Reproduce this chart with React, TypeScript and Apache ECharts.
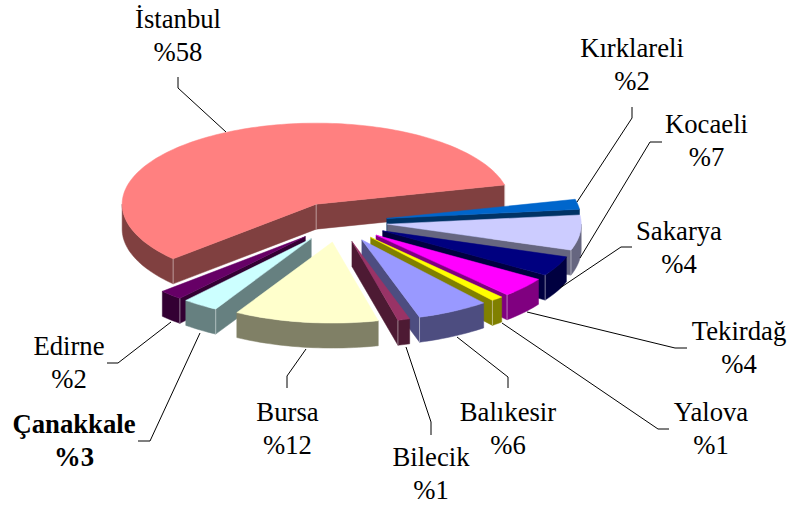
import React, { useEffect, useRef } from "react";
import * as echarts from "echarts";

// Data
const cities = ["İstanbul", "Kırklareli", "Kocaeli", "Sakarya", "Tekirdağ", "Yalova", "Balıkesir", "Bilecik", "Bursa", "Çanakkale", "Edirne"];
const shares = [58, 2, 7, 4, 4, 1, 6, 1, 12, 3, 2];

// Styles
const topColors = ["#FF8080", "#0066CC", "#CCCCFF", "#000080", "#FF00FF", "#FFFF00", "#9999FF", "#993366", "#FFFFCC", "#CCFFFF", "#660066"];
const sideColors = ["#804040", "#003366", "#666680", "#000040", "#800080", "#808000", "#4D4D80", "#4D1A33", "#808066", "#668080", "#330033"];
const boldLabels = [false, false, false, false, false, false, false, false, false, true, false];

// Painting order, back to front
const drawOrder = [0, 1, 2, 3, 4, 5, 6, 7, 10, 9, 8];

// Pie projection
const CX = 339;
const CY = 222;
const RX = 194;
const RY = 81;
const DEPTH = 25;
const EXPLODE = 0.25;
const START_DEG = 222.5; // where the first slice begins, counter-clockwise from 3 o'clock

// Label layout: centre x, first-line baseline
const labelX = [178, 632, 706.5, 679, 739, 711, 508, 431, 287.5, 74, 69];
const labelBase = [28, 57, 133, 240, 340, 421, 421, 466, 421, 433, 355];
const LINE_H = 33.5;
const FONT_SIZE = 26.7;

// Leader lines
const leaders: number[][][] = [
  [[178, 77], [178, 88], [226, 132]],
  [[632, 107], [632, 118], [577, 202]],
  [[662, 142], [650, 142], [580, 258]],
  [[632, 247], [621, 247], [560, 288]],
  [[687, 348], [675, 348], [527, 312]],
  [[669, 429], [658, 429], [502, 323]],
  [[508, 388], [508, 377], [457, 337]],
  [[431, 435], [431, 422], [406, 347]],
  [[287, 388], [287, 376], [306, 349]],
  [[138, 441], [150, 441], [200, 333]],
  [[107, 363], [118, 363], [171, 322]],
];

const total = shares.reduce((a, b) => a + b, 0);
const RAD = Math.PI / 180;

function sliceAngles(i: number) {
  let before = 0;
  for (let k = 0; k < i; k++) before += shares[k];
  const t1 = START_DEG - (before / total) * 360;
  const t2 = t1 - (shares[i] / total) * 360;
  return { t1, t2 };
}

function renderSlice(_params: any, api: any) {
  const i = api.value(0) as number;
  const { t1, t2 } = sliceAngles(i);
  const mid = ((t1 + t2) / 2) * RAD;
  const ax = CX + Math.cos(mid) * EXPLODE * RX;
  const ay = CY - Math.sin(mid) * EXPLODE * RY;
  const pt = (deg: number): [number, number] => [
    ax + RX * Math.cos(deg * RAD),
    ay - RY * Math.sin(deg * RAD),
  ];
  const down = (p: number[]): [number, number] => [p[0], p[1] + DEPTH];
  const arc = (from: number, to: number) => {
    const n = Math.max(2, Math.ceil(Math.abs(from - to) / 1.5));
    const out: [number, number][] = [];
    for (let k = 0; k <= n; k++) out.push(pt(from + ((to - from) * k) / n));
    return out;
  };
  const side = sideColors[i];
  const children: any[] = [];
  const apex: [number, number] = [ax, ay];

  const wall = (p: [number, number]) =>
    children.push({
      type: "polygon",
      shape: { points: [apex, p, down(p), down(apex)] },
      style: { fill: side, stroke: side, lineWidth: 0.5 },
    });
  const edge = (p: number[]) =>
    children.push({
      type: "line",
      shape: { x1: p[0], y1: p[1], x2: p[0], y2: p[1] + DEPTH },
      style: { stroke: "rgba(255,255,255,0.45)", lineWidth: 1 },
    });

  const t1Front = Math.sin((t1 + 90) * RAD) < 0;
  const t2Front = Math.sin((t2 - 90) * RAD) < 0;
  if (t1Front) wall(pt(t1));
  if (t2Front) wall(pt(t2));

  // Outer rim: only the part whose angle lies on the viewer's side
  const ranges: [number, number][] = [];
  for (const [lo, hi] of [[-180, 0], [180, 360], [-540, -360]] as [number, number][]) {
    const a = Math.max(t2, lo);
    const b = Math.min(t1, hi);
    if (b > a) ranges.push([b, a]);
  }
  for (const [from, to] of ranges) {
    const top = arc(from, to);
    const bottom = top.map(down).reverse();
    children.push({
      type: "polygon",
      shape: { points: [...top, ...bottom] },
      style: { fill: side, stroke: side, lineWidth: 0.5 },
    });
  }

  children.push({
    type: "polygon",
    shape: { points: [apex, ...arc(t1, t2)] },
    style: { fill: topColors[i], stroke: topColors[i], lineWidth: 0.5 },
  });

  if (ranges.length) {
    if (t1Front) edge(pt(t1));
    if (t2Front) edge(pt(t2));
  }
  if (t1Front && t2Front) edge(apex);

  return { type: "group", children };
}

function renderLabel(_params: any, api: any) {
  const i = api.value(0) as number;
  return {
    type: "group",
    children: [
      {
        type: "polyline",
        shape: { points: leaders[i] },
        style: { stroke: "#000000", lineWidth: 1, fill: "none" },
      },
      {
        type: "text",
        style: {
          x: labelX[i],
          y: labelBase[i] - FONT_SIZE * 0.31 - LINE_H / 2 - 1,
          text: `${cities[i]}\n%${shares[i]}`,
          align: "center",
          verticalAlign: "top",
          lineHeight: LINE_H,
          fontFamily: '"Liberation Serif", "Times New Roman", serif',
          fontSize: FONT_SIZE,
          fontWeight: boldLabels[i] ? "bold" : "normal",
          fill: "#000000",
        },
      },
    ],
  };
}

export default function App() {
  const ref = useRef<HTMLDivElement>(null);
  useEffect(() => {
    document.body.style.margin = "0";
    const chart = echarts.init(ref.current!, undefined, { renderer: "svg" });
    chart.setOption({
      animation: false,
      backgroundColor: "#ffffff",
      series: [
        {
          type: "custom",
          coordinateSystem: "none",
          silent: true,
          renderItem: renderSlice,
          data: drawOrder.map((i) => [i]),
          encode: { value: 0 },
        },
        {
          type: "custom",
          coordinateSystem: "none",
          silent: true,
          renderItem: renderLabel,
          data: cities.map((_, i) => [i]),
          encode: { value: 0 },
        },
      ],
    });
    return () => chart.dispose();
  }, []);
  return <div ref={ref} style={{ width: 791, height: 506 }} />;
}
